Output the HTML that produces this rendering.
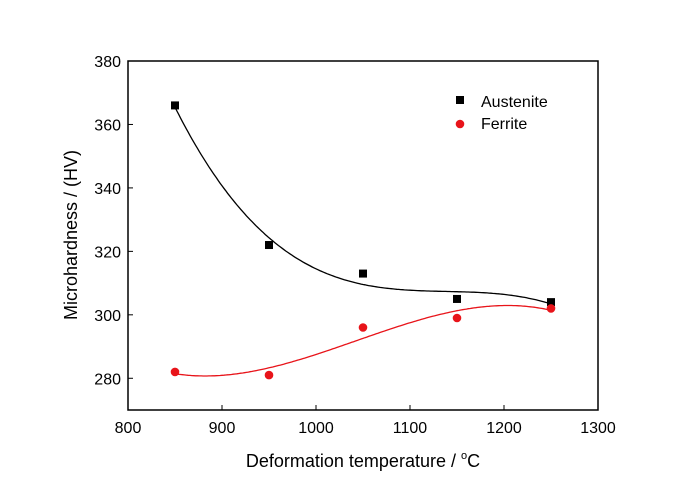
<!DOCTYPE html>
<html><head><meta charset="utf-8"><style>
body{margin:0;background:#fff;}
text{font-family:"Liberation Sans",Arial,sans-serif;}
</style></head><body>
<svg id="chart" width="700" height="497" xmlns="http://www.w3.org/2000/svg">
<g id="axes"></g><g id="marks"></g>
<text x="363" y="467" font-size="18" text-anchor="middle">Deformation temperature / <tspan font-size="11" dy="-8">o</tspan><tspan dy="8">C</tspan></text>
<text transform="translate(77,235) rotate(-90)" font-size="18" text-anchor="middle">Microhardness / (HV)</text>
<g>
<rect x="456" y="96" width="8" height="8" fill="#000"/>
<text x="481" y="107" font-size="16">Austenite</text>
<circle cx="460" cy="124" r="4.3" fill="#e8141a"/>
<text x="481" y="129" font-size="16">Ferrite</text>
</g>
</svg>
<script>
const temps=[850,950,1050,1150,1250];
const austenite=[366,322,313,305,304];
const ferrite=[282,281,296,299,302];
const xTicks=[800,900,1000,1100,1200,1300];
const yTicks=[280,300,320,340,360,380];
const L=128,R=598,T=61,B=410,x0=800,x1=1300,y0=270,y1=380;
const sx=v=>L+(v-x0)/(x1-x0)*(R-L);
const sy=v=>B-(v-y0)/(y1-y0)*(B-T);
const NS="http://www.w3.org/2000/svg";
function mk(t,a,p){const e=document.createElementNS(NS,t);for(const k in a)e.setAttribute(k,a[k]);p.appendChild(e);return e;}
const ax=document.getElementById('axes'),mg=document.getElementById('marks');
const frame=mk('rect',{x:L,y:T,width:R-L,height:B-T,fill:'none',stroke:'#000','stroke-width':1.5},ax);


xTicks.forEach(v=>{
 const l=mk('line',{x1:sx(v),x2:sx(v),y1:B,y2:B-5,stroke:'#000'},ax);
 
 
 const t=mk('text',{x:sx(v),y:B+23,'font-size':16,'text-anchor':'middle'},ax);t.textContent=v;
 
 
});
yTicks.forEach(v=>{
 const l=mk('line',{x1:L,x2:L+5,y1:sy(v),y2:sy(v),stroke:'#000'},ax);
 
 
 const t=mk('text',{x:L-7,y:sy(v)+6,'font-size':16,'text-anchor':'end'},ax);t.textContent=v;
 
 
});
function fit(xs,ys,d){
 const n=d+1,A=[],bb=[];
 const c=1050,s=200;
 for(let i=0;i<n;i++){A.push(new Array(n).fill(0));bb.push(0);}
 xs.forEach((x,k)=>{const u=(x-c)/s;for(let i=0;i<n;i++){bb[i]+=ys[k]*u**i;for(let j=0;j<n;j++)A[i][j]+=u**(i+j);}});
 for(let i=0;i<n;i++){for(let r=i+1;r<n;r++){const f=A[r][i]/A[i][i];for(let j=i;j<n;j++)A[r][j]-=f*A[i][j];bb[r]-=f*bb[i];}}
 const co=new Array(n).fill(0);
 for(let i=n-1;i>=0;i--){let sm=bb[i];for(let j=i+1;j<n;j++)sm-=A[i][j]*co[j];co[i]=sm/A[i][i];}
 return x=>{const u=(x-c)/s;let y=0;for(let i=0;i<n;i++)y+=co[i]*u**i;return y;};
}
function series(ys,color,name,shape){
 const f=fit(temps,ys,3);let d='';
 for(let x=temps[0];x<=temps[temps.length-1];x+=2)d+=(d?'L':'M')+sx(x).toFixed(1)+','+sy(f(x)).toFixed(1);
 const p=mk('path',{d:d,fill:'none',stroke:color,'stroke-width':1.3},mg);
 
 
 temps.forEach((t,i)=>{
  let e;
  if(shape==='sq')e=mk('rect',{x:sx(t)-4,y:sy(ys[i])-4,width:8,height:8,fill:color},mg);
  else e=mk('circle',{cx:sx(t),cy:sy(ys[i]),r:4.3,fill:color},mg);
  
  
 });
}
series(austenite,'#000','austenite','sq');
series(ferrite,'#e8141a','ferrite','ci');
</script>
</body></html>
